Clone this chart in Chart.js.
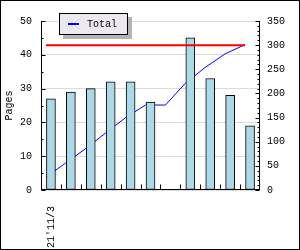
<!DOCTYPE html>
<html>
<head>
<meta charset="utf-8">
<script src="https://cdn.jsdelivr.net/npm/chart.js@4.4.1/dist/chart.umd.min.js"></script>
<style>
  html, body { margin: 0; padding: 0; background: #fff; }
  canvas { display: block; }
</style>
</head>
<body>
<canvas id="c" width="300" height="250"></canvas>
<script>
// values
const days = ["21'11/3", "21'11/4", "21'11/5", "21'11/6", "21'11/7", "21'11/8", "21'11/9", "21'11/10", "21'11/11", "21'11/12", "21'11/13"];
const pages = [27, 29, 30, 32, 32, 26, null, 45, 33, 28, 19];
const total = [27, 56, 86, 118, 150, 176, 176, 221, 254, 282, 301];
const goal = 300;
const legendLabel = 'Total';

const FONT = "'Liberation Mono', 'DejaVu Sans Mono', monospace";
const INK = '#000', BAR = '#add8e6', GRID = '#dcdcdc';

// axis lines, inward ticks, legend box and outer frame
const frame = {
  id: 'frame',
  afterDatasetsDraw(chart) {
    const { ctx, chartArea: a, scales } = chart;
    const L = Math.round(a.left) + 0.5, R = Math.round(a.right) - 0.5, B = Math.round(a.bottom) - 0.5;
    ctx.save();
    ctx.strokeStyle = INK; ctx.lineWidth = 1;
    ctx.beginPath();
    ctx.moveTo(L, a.top); ctx.lineTo(L, B + 0.5);
    ctx.moveTo(R, a.top); ctx.lineTo(R, B + 0.5);
    ctx.moveTo(L, B); ctx.lineTo(R, B);
    // left: major every 10, minor every 5
    for (let v = 0; v <= 50; v += 5) {
      const y = Math.round(scales.y.getPixelForValue(v)) + 0.5;
      ctx.moveTo(L, y); ctx.lineTo(L + (v % 10 ? 2 : 4), y);
    }
    // right: major every 50, minor every 10
    for (let v = 0; v <= 350; v += 10) {
      const y = Math.round(scales.y2.getPixelForValue(v)) + 0.5;
      ctx.moveTo(R, y); ctx.lineTo(R - (v % 50 ? 2 : 4), y);
    }
    // bottom ticks on category boundaries
    const step = (a.right - a.left) / days.length;
    for (let i = 1; i < days.length; i++) {
      const x = Math.round(a.left + i * step) + 0.5;
      ctx.moveTo(x, B); ctx.lineTo(x, B - 5);
    }
    ctx.stroke();
    ctx.restore();
  },
  afterDraw(chart) {
    const { ctx, width, height } = chart;
    ctx.save();
    // legend
    ctx.fillStyle = '#b4b4b4';
    ctx.fillRect(63, 17, 69, 22);
    ctx.fillStyle = '#ebe8ef';
    ctx.fillRect(59, 13, 69, 22);
    ctx.strokeStyle = INK; ctx.lineWidth = 1;
    ctx.strokeRect(59.5, 13.5, 68, 21);
    ctx.strokeStyle = '#0000ff'; ctx.lineWidth = 2;
    ctx.beginPath(); ctx.moveTo(68, 24); ctx.lineTo(79, 24); ctx.stroke();
    ctx.fillStyle = INK; ctx.font = '10px ' + FONT;
    ctx.textBaseline = 'middle'; ctx.textAlign = 'left';
    ctx.fillText(legendLabel, 87, 24);
    // outer frame
    ctx.lineWidth = 1; ctx.strokeStyle = INK;
    ctx.strokeRect(0.5, 0.5, width - 1, height - 1);
    ctx.restore();
  }
};

const tickFont = { family: FONT, size: 10 };

new Chart(document.getElementById('c').getContext('2d'), {
  type: 'bar',
  data: {
    labels: days,
    datasets: [
      {
        type: 'bar', label: 'Pages', data: pages, xAxisID: 'x', yAxisID: 'y',
        backgroundColor: BAR, borderColor: INK, borderWidth: 1, borderSkipped: false,
        barThickness: 9, grouped: false, order: 2
      },
      {
        type: 'line', label: legendLabel, data: total.map((v, i) => ({ x: i, y: v })),
        xAxisID: 'x2', yAxisID: 'y2', borderColor: '#0000ff', borderWidth: 1,
        pointRadius: 0, tension: 0, order: 3
      },
      {
        type: 'line', label: 'Goal', data: [{ x: 0, y: goal }, { x: days.length - 1, y: goal }],
        xAxisID: 'x2', yAxisID: 'y2', borderColor: '#ff0000', borderWidth: 2,
        pointRadius: 0, order: 1
      }
    ]
  },
  options: {
    responsive: false, animation: false,
    layout: { padding: { top: 21, left: 0, right: 0, bottom: 0 } },
    plugins: { legend: { display: false }, tooltip: { enabled: false } },
    scales: {
      x: {
        type: 'category', offset: true,
        grid: { display: false }, border: { display: false },
        ticks: {
          font: tickFont, color: INK, autoSkip: false, minRotation: 90, maxRotation: 90, padding: 8,
          callback: (v, i) => (i === 0 ? days[i] : '')
        },
        afterFit: (s) => { s.height = 60; }
      },
      x2: { type: 'linear', display: false, offset: false, min: -0.25, max: days.length - 0.25 },
      y: {
        position: 'left', min: 0, max: 50,
        grid: { color: GRID, drawTicks: false }, border: { display: false },
        ticks: { stepSize: 10, font: tickFont, color: INK, padding: 9 },
        title: { display: true, text: 'Pages', font: tickFont, color: INK, padding: { top: 3, bottom: 0 } },
        afterFit: (s) => { s.width = 41; }
      },
      y2: {
        position: 'right', min: 0, max: 350,
        grid: { display: false, drawTicks: false }, border: { display: false },
        ticks: { stepSize: 50, font: tickFont, color: INK, padding: 7 },
        afterFit: (s) => { s.width = 40; }
      }
    }
  },
  plugins: [frame]
});
</script>
</body>
</html>
